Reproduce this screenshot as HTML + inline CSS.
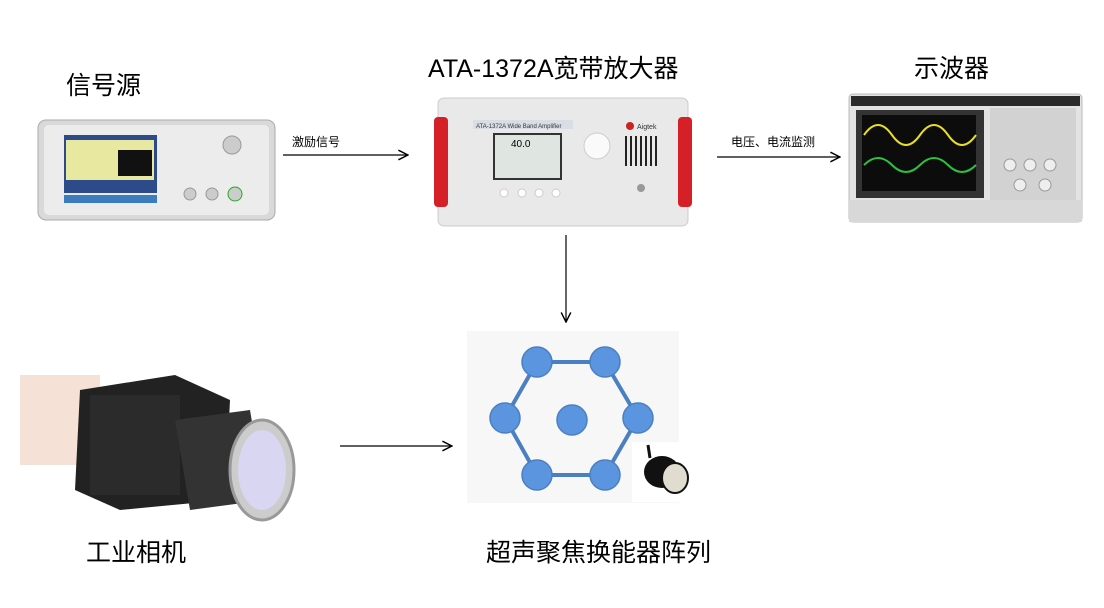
<!DOCTYPE html>
<html><head><meta charset="utf-8"><style>
body{margin:0;background:#fff;width:1104px;height:603px;overflow:hidden;font-family:"Liberation Sans","Noto Sans CJK SC",sans-serif;}
</style></head><body>
<svg width="1104" height="603" viewBox="0 0 1104 603" xmlns="http://www.w3.org/2000/svg" font-family="Liberation Sans, Noto Sans CJK SC, sans-serif">
<defs><marker id="a" markerWidth="10" markerHeight="10" refX="9" refY="5" orient="auto"><path d="M1,1 L9,5 L1,9" fill="none" stroke="#000" stroke-width="1.2"/></marker></defs>
<!-- labels -->
<text x="66" y="94" font-size="25">信号源</text>
<text x="428" y="77" font-size="25">ATA-1372A宽带放大器</text>
<text x="914" y="77" font-size="25">示波器</text>
<text x="86" y="561" font-size="25">工业相机</text>
<text x="486" y="561" font-size="25">超声聚焦换能器阵列</text>
<text x="292" y="146" font-size="12">激励信号</text>
<text x="731" y="146" font-size="12">电压、电流监测</text>
<!-- arrows -->
<g stroke="#000" stroke-width="1.2" fill="none" marker-end="url(#a)">
<line x1="283" y1="155" x2="408" y2="155"/>
<line x1="717" y1="157" x2="840" y2="157"/>
<line x1="566" y1="235" x2="566" y2="322"/>
<line x1="340" y1="446" x2="452" y2="446"/>
</g>
<!-- signal generator -->
<rect x="38" y="120" width="237" height="100" rx="8" fill="#d9d9d9" stroke="#aaa"/>
<rect x="44" y="125" width="225" height="90" rx="5" fill="#ececec"/>
<rect x="64" y="135" width="93" height="58" fill="#2d4a8a"/>
<rect x="66" y="140" width="88" height="40" fill="#e8e8a0"/>
<rect x="118" y="150" width="34" height="26" fill="#111"/>
<rect x="64" y="195" width="93" height="8" fill="#3d7bbf"/>
<g fill="#ccc" stroke="#999"><circle cx="232" cy="145" r="9"/><circle cx="190" cy="194" r="6"/><circle cx="212" cy="194" r="6"/><circle cx="235" cy="194" r="7" stroke="#2a2"/></g>
<!-- amplifier -->
<rect x="438" y="98" width="250" height="128" rx="6" fill="#e9e9e9" stroke="#ccc"/>
<rect x="434" y="117" width="14" height="90" rx="4" fill="#d42026"/>
<rect x="678" y="117" width="14" height="90" rx="4" fill="#d42026"/>
<rect x="473" y="120" width="100" height="9" fill="#d8dde6"/>
<text x="476" y="128" font-size="6" fill="#333">ATA-1372A Wide Band Amplifier</text>
<rect x="494" y="134" width="67" height="45" fill="#dfe5e0" stroke="#333" stroke-width="2"/>
<text x="511" y="147" font-size="10">40.0</text>
<circle cx="597" cy="146" r="13" fill="#fafafa" stroke="#ccc"/>
<g fill="#222"><rect x="625" y="136" width="2" height="30"/><rect x="630" y="136" width="2" height="30"/><rect x="635" y="136" width="2" height="30"/><rect x="640" y="136" width="2" height="30"/><rect x="645" y="136" width="2" height="30"/><rect x="650" y="136" width="2" height="30"/><rect x="655" y="136" width="2" height="30"/></g>
<circle cx="630" cy="126" r="4" fill="#c22"/><text x="637" y="129" font-size="7" fill="#333">Aigtek</text>
<g fill="#fff" stroke="#ccc"><circle cx="504" cy="193" r="4"/><circle cx="522" cy="193" r="4"/><circle cx="539" cy="193" r="4"/><circle cx="556" cy="193" r="4"/></g>
<circle cx="641" cy="188" r="4" fill="#999"/>
<!-- oscilloscope -->
<rect x="849" y="94" width="233" height="128" rx="4" fill="#e3e3e3" stroke="#bbb"/>
<rect x="851" y="96" width="229" height="10" fill="#2a2a2a"/>
<rect x="856" y="110" width="128" height="88" fill="#333"/>
<rect x="862" y="115" width="114" height="76" fill="#0c0c0c"/>
<path d="M864,135 q14,-20 28,0 t28,0 t28,0 t28,0" stroke="#e8e020" fill="none" stroke-width="2"/>
<path d="M864,165 q14,-14 28,0 t28,0 t28,0 t28,0" stroke="#2ec040" fill="none" stroke-width="2"/>
<rect x="990" y="108" width="86" height="96" fill="#d2d2d2"/>
<g fill="#eee" stroke="#999"><circle cx="1010" cy="165" r="6"/><circle cx="1030" cy="165" r="6"/><circle cx="1050" cy="165" r="6"/><circle cx="1020" cy="185" r="6"/><circle cx="1045" cy="185" r="6"/></g>
<rect x="849" y="200" width="233" height="22" fill="#d8d8d8"/>
<!-- camera -->
<rect x="20" y="375" width="80" height="90" fill="#e8b49a" opacity="0.4"/>
<path d="M80,390 L175,375 L230,400 L225,500 L120,510 L75,490 Z" fill="#222"/>
<rect x="90" y="395" width="90" height="100" fill="#2b2b2b"/>
<path d="M175,420 L250,410 L265,500 L190,510 Z" fill="#333"/>
<ellipse cx="262" cy="470" rx="32" ry="50" fill="#ccc" stroke="#999" stroke-width="3"/>
<ellipse cx="262" cy="470" rx="24" ry="40" fill="#d8d6f0"/>
<!-- hexagon panel -->
<rect x="467" y="331" width="212" height="172" fill="#f7f7f7"/>
<g stroke="#4a7fc1" stroke-width="4" fill="none"><polygon points="537,362 605,362 638,418 605,475 537,475 505,418"/></g>
<g fill="#5b95e0" stroke="#4a7fc1" stroke-width="1.5">
<circle cx="537" cy="362" r="15"/><circle cx="605" cy="362" r="15"/><circle cx="505" cy="418" r="15"/><circle cx="572" cy="420" r="15"/><circle cx="638" cy="418" r="15"/><circle cx="537" cy="475" r="15"/><circle cx="605" cy="475" r="15"/></g>
<rect x="632" y="442" width="70" height="60" fill="#fff"/>
<path d="M648,445 L650,458" stroke="#111" stroke-width="3"/>
<ellipse cx="662" cy="472" rx="18" ry="16" fill="#111"/>
<ellipse cx="675" cy="478" rx="13" ry="15" fill="#e0ddd0" stroke="#111" stroke-width="2"/>
</svg>
</body></html>
